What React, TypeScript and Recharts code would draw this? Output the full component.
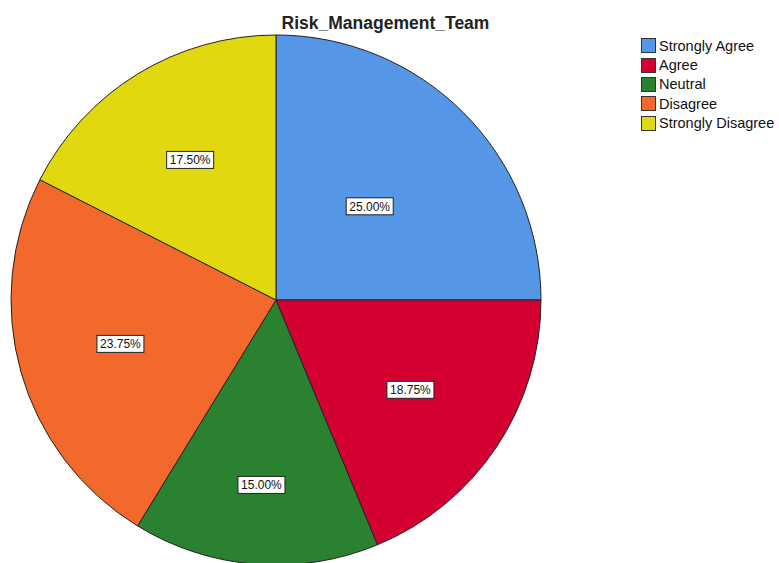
import { PieChart, Pie, Cell, Legend } from 'recharts';

// =============================================================================
// Data
// =============================================================================

const CATEGORIES = ['Strongly Agree', 'Agree', 'Neutral', 'Disagree', 'Strongly Disagree'];
const PERCENTS = [25.0, 18.75, 15.0, 23.75, 17.5];
const COLORS = ['#5596e6', '#d50032', '#2a8230', '#f3692b', '#e2d810'];

const TITLE = 'Risk_Management_Team';

const data = CATEGORIES.map((name, i) => ({ name, value: PERCENTS[i], color: COLORS[i] }));

// label distance from center (fraction of radius), per slice, to mimic SPSS placement
const LABEL_R = [0.5, 0.61, 0.7, 0.61, 0.62];
const FONT = '"Liberation Sans", Arial, sans-serif';
const RAD = Math.PI / 180;

function renderLabel(props: any) {
  const { cx, cy, midAngle, outerRadius, index, value } = props;
  const r = outerRadius * LABEL_R[index];
  const x = cx + r * Math.cos(midAngle * RAD);
  const y = cy - r * Math.sin(midAngle * RAD);
  const w = 47;
  const h = 17;
  return (
    <g>
      <rect x={x - w / 2} y={y - h / 2} width={w} height={h} fill="#fff" stroke="#222" strokeWidth={1} />
      <text x={x} y={y + 4.5} textAnchor="middle" fontSize={12} fontFamily={FONT} fill="#111">
        {`${value.toFixed(2)}%`}
      </text>
    </g>
  );
}

function LegendBox() {
  return (
    <div style={{ fontFamily: FONT, fontSize: 14.5, color: '#111' }}>
      {data.map((d) => (
        <div key={d.name} style={{ display: 'flex', alignItems: 'center', height: 19.4 }}>
          <span
            style={{
              display: 'inline-block',
              width: 13,
              height: 13,
              background: d.color,
              border: '1px solid #333',
              marginRight: 3,
            }}
          />
          <span>{d.name}</span>
        </div>
      ))}
    </div>
  );
}

export default function App() {
  return (
    <div style={{ position: 'absolute', left: 0, top: 0, width: 779, height: 563, background: '#fff', overflow: 'hidden' }}>
      <div
        style={{
          position: 'absolute',
          top: 13,
          left: 0,
          width: 771,
          textAlign: 'center',
          fontFamily: FONT,
          fontWeight: 'bold',
          fontSize: 17.5,
          lineHeight: '20px',
          color: '#222',
          zIndex: 2,
        }}
      >
        {TITLE}
      </div>
      <PieChart width={779} height={563} margin={{ top: 0, right: 0, bottom: 0, left: 0 }}>
        <Pie
          data={data}
          dataKey="value"
          nameKey="name"
          cx={276}
          cy={300}
          outerRadius={265}
          startAngle={90}
          endAngle={-270}
          stroke="#222"
          strokeWidth={1}
          label={renderLabel}
          labelLine={false}
          isAnimationActive={false}
        >
          {data.map((d, i) => (
            <Cell key={`cell-${i}`} fill={d.color} />
          ))}
        </Pie>
        <Legend
          layout="vertical"
          verticalAlign="top"
          align="right"
          content={() => <LegendBox />}
          wrapperStyle={{ top: 36, left: 641, width: 140 }}
        />
      </PieChart>
    </div>
  );
}
